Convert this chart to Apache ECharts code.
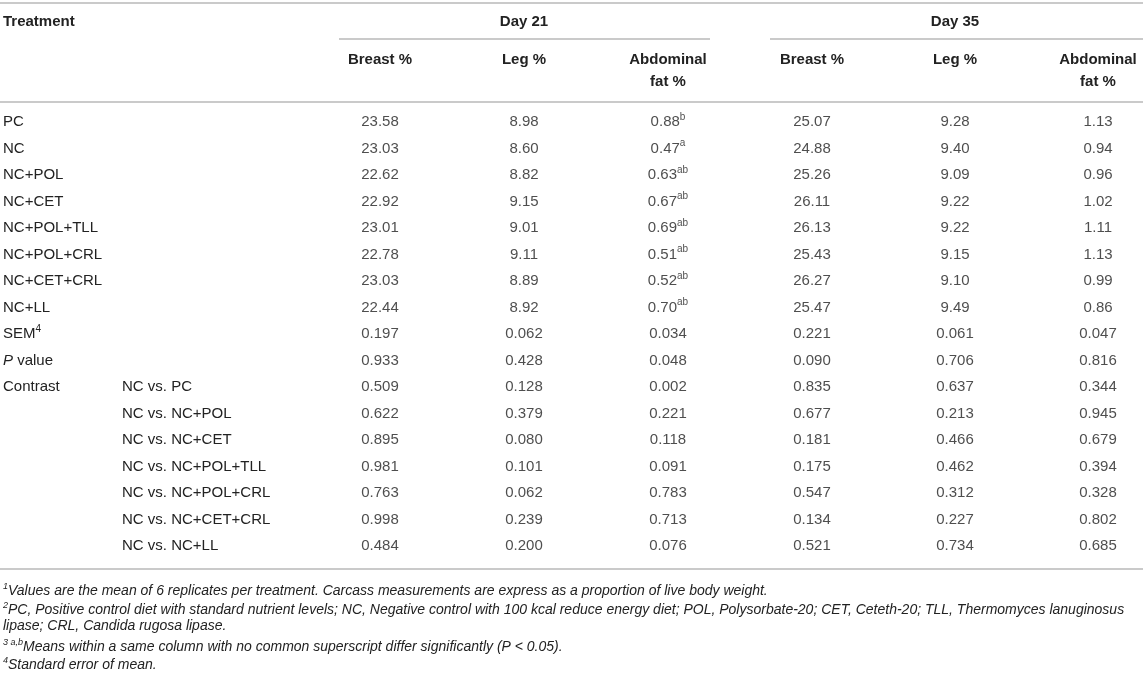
<!DOCTYPE html>
<html>
<head>
<meta charset="utf-8">
<title>Carcass traits table</title>
<script src="https://cdn.jsdelivr.net/npm/echarts@6/dist/echarts.min.js"></script>
<style>
    html, body { margin: 0; padding: 0; background: #fff; }
    #table-chart { width: 1143px; height: 676px; }
</style>
</head>
<body>
<div id="table-chart"></div>
<script>
// Row labels (main column, contrast sub-column)
const rowMain = ['PC', 'NC', 'NC+POL', 'NC+CET', 'NC+POL+TLL', 'NC+POL+CRL', 'NC+CET+CRL', 'NC+LL',
    'SEM', 'P value', 'Contrast', '', '', '', '', '', ''];
const rowSub = ['', '', '', '', '', '', '', '', '', '',
    'NC vs. PC', 'NC vs. NC+POL', 'NC vs. NC+CET', 'NC vs. NC+POL+TLL',
    'NC vs. NC+POL+CRL', 'NC vs. NC+CET+CRL', 'NC vs. NC+LL'];

// Column headers
const colHeaders = ['Breast %', 'Leg %', 'Abdominal\nfat %'];
const dayHeaders = ['Day 21', 'Day 35'];

// Day 21 values
const breast21 = ['23.58', '23.03', '22.62', '22.92', '23.01', '22.78', '23.03', '22.44',
    '0.197', '0.933', '0.509', '0.622', '0.895', '0.981', '0.763', '0.998', '0.484'];
const leg21 = ['8.98', '8.60', '8.82', '9.15', '9.01', '9.11', '8.89', '8.92',
    '0.062', '0.428', '0.128', '0.379', '0.080', '0.101', '0.062', '0.239', '0.200'];
const abd21 = ['0.88', '0.47', '0.63', '0.67', '0.69', '0.51', '0.52', '0.70',
    '0.034', '0.048', '0.002', '0.221', '0.118', '0.091', '0.783', '0.713', '0.076'];
const abd21Sup = ['b', 'a', 'ab', 'ab', 'ab', 'ab', 'ab', 'ab', '', '', '', '', '', '', '', '', ''];

// Day 35 values
const breast35 = ['25.07', '24.88', '25.26', '26.11', '26.13', '25.43', '26.27', '25.47',
    '0.221', '0.090', '0.835', '0.677', '0.181', '0.175', '0.547', '0.134', '0.521'];
const leg35 = ['9.28', '9.40', '9.09', '9.22', '9.22', '9.15', '9.10', '9.49',
    '0.061', '0.706', '0.637', '0.213', '0.466', '0.462', '0.312', '0.227', '0.734'];
const abd35 = ['1.13', '0.94', '0.96', '1.02', '1.11', '1.13', '0.99', '0.86',
    '0.047', '0.816', '0.344', '0.945', '0.679', '0.394', '0.328', '0.802', '0.685'];

// Footnotes
const footnotes = [
    ['1', 'Values are the mean of 6 replicates per treatment. Carcass measurements are express as a proportion of live body weight.'],
    ['2', 'PC, Positive control diet with standard nutrient levels; NC, Negative control with 100 kcal reduce energy diet; POL, Polysorbate-20; CET, Ceteth-20; TLL, Thermomyces lanuginosus'],
    ['', 'lipase; CRL, Candida rugosa lipase.'],
    ['3 a,b', 'Means within a same column with no common superscript differ significantly (P < 0.05).'],
    ['4', 'Standard error of mean.']
];

document.addEventListener('DOMContentLoaded', function() {
    const chart = echarts.init(document.getElementById('table-chart'));

    const FONT = '"Liberation Sans", Arial, sans-serif';
    const TEXT = '#222';
    const RULE = '#b8b8b8';
    const W = 1143;

    const rowIds = rowMain.map((m, i) => 'r' + i);

    function cells(cols) {
        const out = [];
        cols.forEach((col, c) => {
            col.values.forEach((v, r) => {
                out.push({value: [c, r], text: v, sup: col.sup ? col.sup[r] : ''});
            });
        });
        return out;
    }

    const richCell = {
        v: {fontFamily: FONT, fontSize: 15, color: TEXT, lineHeight: 20},
        sup: {fontFamily: FONT, fontSize: 10, color: TEXT, lineHeight: 20, verticalAlign: 'top'}
    };

    function cellSeries(idx, data) {
        return {
            type: 'scatter',
            xAxisIndex: idx,
            yAxisIndex: idx,
            symbolSize: 0,
            silent: true,
            itemStyle: {color: 'rgba(0,0,0,0)'},
            data: data,
            label: {
                show: true,
                position: 'inside',
                formatter: p => '{v|' + p.data.text + '}' + (p.data.sup ? '{sup|' + p.data.sup + '}' : ''),
                rich: richCell
            }
        };
    }

    function xAxisFor(idx) {
        return {
            type: 'category',
            gridIndex: idx,
            position: 'top',
            data: colHeaders,
            boundaryGap: false,
            name: dayHeaders[idx],
            nameLocation: 'middle',
            nameGap: 87,
            nameTextStyle: {fontFamily: FONT, fontSize: 15, fontWeight: 'bold', color: TEXT, verticalAlign: 'middle'},
            axisLine: {show: false},
            axisTick: {show: false},
            splitLine: {show: false},
            axisLabel: {
                margin: 60,
                verticalAlign: 'top',
                fontFamily: FONT,
                fontSize: 15,
                fontWeight: 'bold',
                lineHeight: 22,
                color: TEXT,
                interval: 0
            }
        };
    }

    function yAxisFor(idx) {
        return {
            type: 'category',
            gridIndex: idx,
            inverse: true,
            data: rowIds,
            axisLine: {show: false},
            axisTick: {show: false},
            splitLine: {show: false},
            axisLabel: {
                show: idx === 0,
                interval: 0,
                margin: 377,
                align: 'left',
                formatter: function(val, i) {
                    let main = rowMain[i];
                    if (main === 'SEM') main = '{m|SEM}{sup|4}';
                    else if (main === 'P value') main = '{it|P}{m| value}';
                    else if (rowSub[i]) return '{c|' + (main || ' ') + '}{m|' + rowSub[i] + '}';
                    else main = '{m|' + main + '}';
                    return main;
                },
                rich: {
                    c: {fontFamily: FONT, fontSize: 15, color: TEXT, lineHeight: 20, width: 119},
                    m: {fontFamily: FONT, fontSize: 15, color: TEXT, lineHeight: 20},
                    it: {fontFamily: FONT, fontSize: 15, color: TEXT, fontStyle: 'italic', lineHeight: 20},
                    sup: {fontFamily: FONT, fontSize: 10, color: TEXT, lineHeight: 20, verticalAlign: 'top'}
                }
            }
        };
    }

    function rule(x1, x2, y) {
        return {
            type: 'line',
            shape: {x1: x1, y1: y, x2: x2, y2: y},
            style: {stroke: RULE, lineWidth: 1.5},
            silent: true
        };
    }

    const noteRich = {
        s: {fontFamily: FONT, fontSize: 9, fontStyle: 'italic', fill: TEXT, verticalAlign: 'top', lineHeight: 18},
        i: {fontFamily: FONT, fontSize: 14, fontStyle: 'italic', fill: TEXT, lineHeight: 18}
    };
    const noteY = [591, 610, 628, 647, 665];
    const noteGraphics = footnotes.map((n, k) => ({
        type: 'text',
        left: 3,
        top: noteY[k] - 9,
        silent: true,
        style: {
            text: (n[0] ? '{s|' + n[0] + '}' : '') + '{i|' + n[1] + '}',
            rich: noteRich
        }
    }));

    const option = {
        animation: false,
        grid: [
            {left: 380, right: W - 668, top: 108.75, bottom: 116.75},
            {left: 812, right: W - 1098, top: 108.75, bottom: 116.75}
        ],
        xAxis: [xAxisFor(0), xAxisFor(1)],
        yAxis: [yAxisFor(0), yAxisFor(1)],
        series: [
            cellSeries(0, cells([{values: breast21}, {values: leg21}, {values: abd21, sup: abd21Sup}])),
            cellSeries(1, cells([{values: breast35}, {values: leg35}, {values: abd35}]))
        ],
        graphic: [
            rule(0, W, 3),
            rule(339, 710, 39),
            rule(770, W, 39),
            rule(0, W, 102),
            rule(0, W, 569),
            {
                type: 'text',
                left: 3,
                top: 14,
                silent: true,
                style: {text: 'Treatment', fontFamily: FONT, fontSize: 15, fontWeight: 'bold', fill: TEXT}
            }
        ].concat(noteGraphics)
    };

    chart.setOption(option);

    window.addEventListener('resize', function() {
        chart.resize();
    });
});
</script>
</body>
</html>
